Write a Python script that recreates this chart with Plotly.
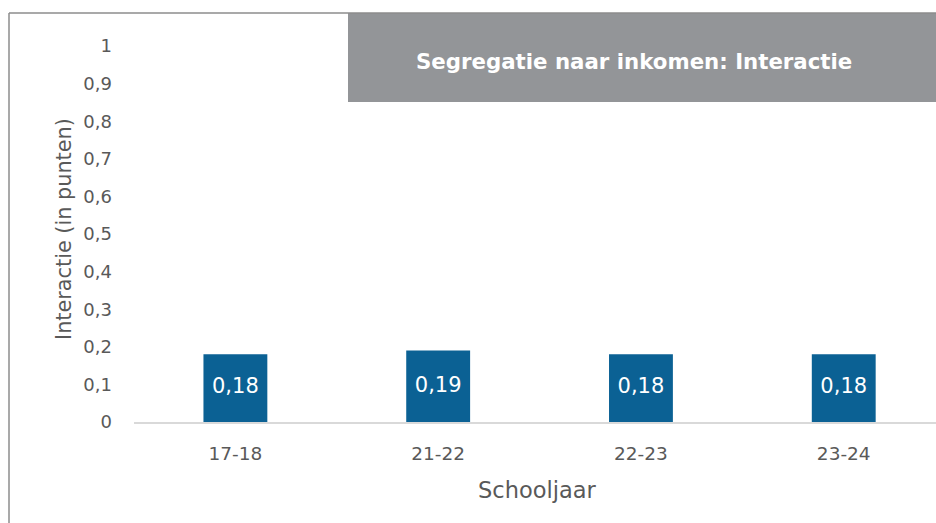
import plotly.graph_objects as go

categories = ["17-18", "21-22", "22-23", "23-24"]
values = [0.18, 0.19, 0.18, 0.18]
labels = ["0,18", "0,19", "0,18", "0,18"]
y_ticks = [0, 0.1, 0.2, 0.3, 0.4, 0.5, 0.6, 0.7, 0.8, 0.9, 1]
y_tick_labels = ["0", "0,1", "0,2", "0,3", "0,4", "0,5", "0,6", "0,7", "0,8", "0,9", "1"]

W, H = 936, 523
L, R, T, B = 134, 936, 46, 422

def px(x):
    return (x - L) / (R - L)

def py(y):
    return (B - y) / (B - T)

FONT = "DejaVu Sans"
GREY = "#595959"
xs = list(range(len(categories)))

fig = go.Figure()
fig.add_trace(go.Bar(
    x=xs, y=values,
    marker=dict(color="#0b6194", line=dict(width=0)),
    width=0.315, hoverinfo="skip",
))
fig.add_trace(go.Scatter(
    x=xs, y=[v / 2 for v in values], text=labels, mode="text",
    textposition="middle center",
    textfont=dict(family=FONT, size=21, color="white"),
    hoverinfo="skip",
))

fig.update_layout(
    width=W, height=H,
    margin=dict(l=L, r=W - R, t=T, b=H - B),
    paper_bgcolor="white", plot_bgcolor="white",
    showlegend=False,
    font=dict(family=FONT, color=GREY),
    xaxis=dict(
        tickmode="array", tickvals=xs, ticktext=categories,
        range=[-0.5, 3.455], showgrid=False, zeroline=False,
        showline=True, linecolor="#d9d9d9", linewidth=2,
        tickfont=dict(size=18.5, color=GREY), ticks="", ticklabelstandoff=14,
    ),
    yaxis=dict(
        tickmode="array", tickvals=y_ticks, ticktext=y_tick_labels,
        range=[0, 1], showgrid=False, zeroline=False, showline=False,
        tickfont=dict(size=18, color=GREY), ticks="", ticklabelstandoff=21,
    ),
    shapes=[
        dict(type="rect", xref="paper", yref="paper",
             x0=px(348), x1=px(936), y0=py(102), y1=py(13),
             fillcolor="#939598", line=dict(width=0), layer="below"),
        dict(type="line", xref="paper", yref="paper",
             x0=px(9), x1=px(936), y0=py(13), y1=py(13),
             line=dict(color="#8c8c8c", width=1.5)),
        dict(type="line", xref="paper", yref="paper",
             x0=px(9), x1=px(9), y0=py(13), y1=py(523),
             line=dict(color="#8c8c8c", width=1.5)),
    ],
    annotations=[
        dict(text="<b>Segregatie naar inkomen: Interactie</b>", xref="paper", yref="paper",
             x=px(634), y=py(61), xanchor="center", yanchor="middle", showarrow=False,
             font=dict(family=FONT, size=21.3, color="white")),
        dict(text="Schooljaar", xref="paper", yref="paper",
             x=px(537), y=py(490), xanchor="center", yanchor="middle", showarrow=False,
             font=dict(family=FONT, size=22.5, color=GREY)),
        dict(text="Interactie (in punten)", xref="paper", yref="paper", textangle=-90,
             x=px(64), y=py(229), xanchor="center", yanchor="middle", showarrow=False,
             font=dict(family=FONT, size=20.8, color=GREY)),
    ],
)

fig.write_html("out.html", config={"displayModeBar": False},
               post_script="document.body.style.margin='0';")
